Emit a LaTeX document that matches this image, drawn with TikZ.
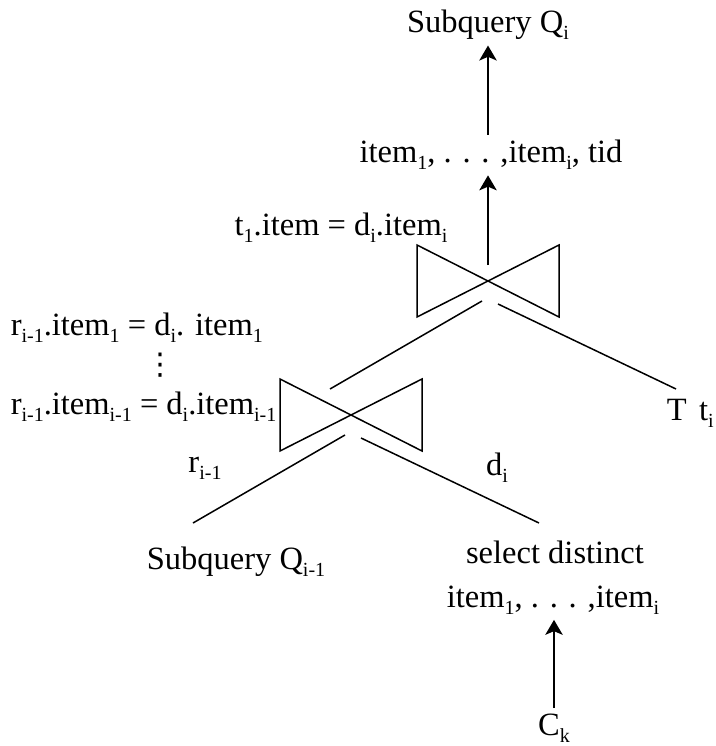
\documentclass[tikz,border=0pt]{standalone}
\usepackage{fontspec}
\setmainfont{Liberation Serif}
\newfontfamily\symfont{DejaVu Sans}
\usetikzlibrary{arrows.meta}
\newcommand{\tsub}[1]{\raisebox{-.45ex}{\fontsize{8}{8}\selectfont #1}}

\begin{document}
\begin{tikzpicture}[>={Stealth[length=6pt, width=7pt, inset=1.5pt]}, x=.4pt, y=-.4pt, line width=.6pt,
  every node/.style={font=\fontsize{13}{15}\selectfont, inner sep=2pt}]
\useasboundingbox (0,0) rectangle (715,746);

\node (qi) at (488,25) {Subquery Q\tsub{i}};
\node (proj) at (491,155) {item\tsub{1}, . . . ,item\tsub{i}, tid};
\node (cond1) at (341,228) {t\tsub{1}.item = d\tsub{i}.item\tsub{i}};
\node (cond2a) [anchor=west] at (5,328) {r\tsub{i-1}.item\tsub{1} = d\tsub{i}. item\tsub{1}};
\node (vdots) [inner sep=0, font=\symfont\fontsize{12}{12}\selectfont] at (160,365) {⋮};
\node (cond2b) [anchor=west] at (5,407) {r\tsub{i-1}.item\tsub{i-1} = d\tsub{i}.item\tsub{i-1}};
\node (tt) [anchor=west] at (661,413) {T\hspace{5pt}t\tsub{i}};
\node (rlab) at (205,468) {r\tsub{i-1}};
\node (dlab) at (497,468) {d\tsub{i}};
\node (qprev) at (236,562) {Subquery Q\tsub{i-1}};
\node (sel) at (555,552) {select distinct};
\node (selitems) at (553,600) {item\tsub{1}, . . . ,item\tsub{i}};
\node (ck) at (554,728) {C\tsub{k}};

\coordinate (join1) at (488,281);
\coordinate (join2) at (351,415);

% join symbols and their inputs
\foreach \j in {join1, join2}
{
   \draw (\j) ++(-71,-36) -- ++(142,72) -- ++(0,-72) -- ++(-142,72) -- cycle;
   \draw (\j) ++(-6,20) -- ++(-152,88);
   \draw (\j) ++(10,23) -- ++(178,85);
}

\draw[->] ([yshift=6.4pt]join1) -- (join1 |- proj.south);
\draw[->] (proj.north -| join1) -- (qi.south -| join1);
\draw[->] (ck.north) -- (ck |- selitems.south);
\end{tikzpicture}
\end{document}
